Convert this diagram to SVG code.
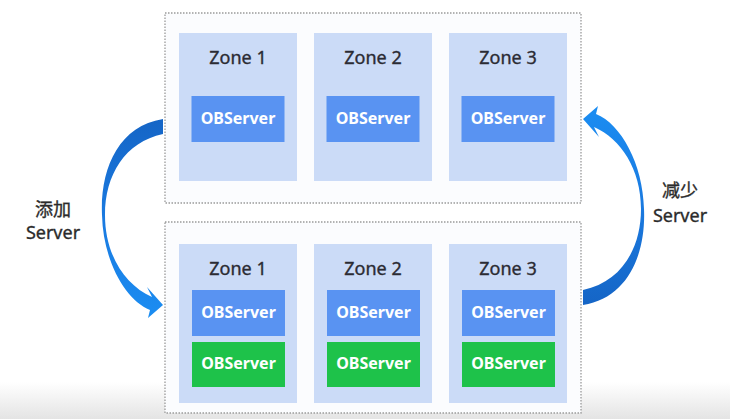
<svg xmlns="http://www.w3.org/2000/svg" xmlns:xlink="http://www.w3.org/1999/xlink" width="730" height="419" viewBox="0 0 730 419">
<defs>
<style>
.outer{fill:#fbfcfe;stroke:#9a9a9a;stroke-width:1.3;stroke-dasharray:1.5 1.5}
.zone{fill:#cbdbf7}
.ztxt{font-family:"Noto Sans","Noto Sans CJK SC",sans-serif;font-size:18px;fill:#2b2b33;stroke:#2b2b33;stroke-width:0.35;text-anchor:middle}
.obs{fill:#5993f2}
.obsg{fill:#1ec24a}
.otxt{font-family:"Noto Sans","Noto Sans CJK SC",sans-serif;font-size:16px;font-weight:bold;fill:#ffffff;text-anchor:middle}
.lbl{font-family:"Noto Sans","Noto Sans CJK SC",sans-serif;font-size:18px;fill:#2b2b2b;stroke:#2b2b2b;stroke-width:0.35;text-anchor:middle}
</style>
<linearGradient id="ag" x1="0" y1="0" x2="0" y2="1">
<stop offset="0" stop-color="#1565c6"/>
<stop offset="0.5" stop-color="#1a7ae0"/>
<stop offset="1" stop-color="#1b8df2"/>
</linearGradient>
<linearGradient id="bg" x1="0" y1="0" x2="0" y2="1">
<stop offset="0" stop-color="#ffffff"/>
<stop offset="1" stop-color="#e4e4e4"/>
</linearGradient>
<path id="arc" d="M163,119 C118,126 100,170 102,215 C103,260 125,300 150,310 L148,318 L163,305 L147,287 L152,297 C125,285 105,255 105,215 C105,175 125,142 163,134 Z" fill="url(#ag)"/>
</defs>
<rect x="0" y="0" width="730" height="419" fill="#ffffff"/>
<rect x="0" y="382" width="730" height="37" fill="url(#bg)"/>

<g id="cluster-top">
<rect class="outer" x="165" y="13" width="416" height="190"/>
</g>
<g id="cluster-bottom">
<rect class="outer" x="165" y="222" width="416" height="191"/>
</g>

<g id="top-zone1">
<rect class="zone" x="179" y="33" width="118" height="148"/>
<text class="ztxt" x="238" y="64">Zone 1</text>
<rect class="obs" x="191.5" y="96" width="93" height="46"/>
<text class="otxt" x="238" y="124">OBServer</text>
</g>
<g id="top-zone2">
<rect class="zone" x="314" y="33" width="118" height="148"/>
<text class="ztxt" x="373" y="64">Zone 2</text>
<rect class="obs" x="326.5" y="96" width="93" height="46"/>
<text class="otxt" x="373" y="124">OBServer</text>
</g>
<g id="top-zone3">
<rect class="zone" x="449" y="33" width="118" height="148"/>
<text class="ztxt" x="508" y="64">Zone 3</text>
<rect class="obs" x="461.5" y="96" width="93" height="46"/>
<text class="otxt" x="508" y="124">OBServer</text>
</g>

<g id="bottom-zone1">
<rect class="zone" x="179" y="244" width="118" height="159"/>
<text class="ztxt" x="238" y="275">Zone 1</text>
<rect class="obs" x="192" y="290" width="93" height="46"/>
<text class="otxt" x="238.5" y="318">OBServer</text>
<rect class="obsg" x="192" y="342" width="93" height="45"/>
<text class="otxt" x="238.5" y="369">OBServer</text>
</g>
<g id="bottom-zone2">
<rect class="zone" x="314" y="244" width="118" height="159"/>
<text class="ztxt" x="373" y="275">Zone 2</text>
<rect class="obs" x="327" y="290" width="93" height="46"/>
<text class="otxt" x="373.5" y="318">OBServer</text>
<rect class="obsg" x="327" y="342" width="93" height="45"/>
<text class="otxt" x="373.5" y="369">OBServer</text>
</g>
<g id="bottom-zone3">
<rect class="zone" x="449" y="244" width="118" height="159"/>
<text class="ztxt" x="508" y="275">Zone 3</text>
<rect class="obs" x="462" y="290" width="93" height="46"/>
<text class="otxt" x="508.5" y="318">OBServer</text>
<rect class="obsg" x="462" y="342" width="93" height="45"/>
<text class="otxt" x="508.5" y="369">OBServer</text>
</g>

<g id="connectors">
<use xlink:href="#arc" href="#arc"/>
<use xlink:href="#arc" href="#arc" transform="rotate(180 373 212)"/>
</g>

<g id="label-add">
<text class="lbl" x="53" y="216">添加</text>
<text class="lbl" x="53" y="239">Server</text>
</g>
<g id="label-remove">
<text class="lbl" x="680" y="197">减少</text>
<text class="lbl" x="680" y="222">Server</text>
</g>
</svg>
